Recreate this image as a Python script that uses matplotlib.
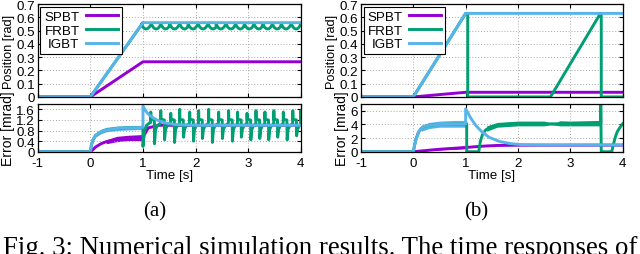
import matplotlib
matplotlib.use("Agg")
import matplotlib.pyplot as plt
import numpy as np

plt.rcParams['font.family'] = ['Liberation Sans', 'DejaVu Sans']
plt.rcParams['axes.unicode_minus'] = False

C_SP = '#9400D3'
C_FR = '#009E73'
C_IG = '#56B4E9'

# ---------------- panel (a) ----------------
t_a_pos = [-1, 0, 1, 4]
sp_a_pos = [0, 0, 0.265, 0.265]
ig_a_pos = [0, 0, 0.56, 0.56]
# FRBT position: scallops after t=1, dip times
fr_a_dips = [1.06, 1.25, 1.43, 1.60, 1.79, 1.95, 2.14, 2.33, 2.48, 2.67,
             2.85, 3.02, 3.20, 3.37, 3.55, 3.72, 3.91]
scallop_off = [-0.09, -0.06, -0.03, 0.0, 0.03, 0.06]
scallop_val = [0.55, 0.527, 0.516, 0.512, 0.516, 0.527]

t_a_ig_err = [-1, 0, 0.02, 0.05, 0.1, 0.2, 0.3, 0.5, 0.7, 1.0, 1.0, 1.05, 1.1,
              1.2, 1.3, 1.45, 1.6, 1.8, 2.0, 4.0]
ig_a_err = [0, 0, 0.25, 0.45, 0.62, 0.75, 0.82, 0.88, 0.9, 0.92, 1.72, 1.55,
            1.42, 1.27, 1.17, 1.08, 1.03, 1.01, 1.0, 1.0]
t_a_ig_band = [0.1, 0.2, 0.3, 0.5, 0.7, 1.0]
ig_a_lo = [0.55, 0.68, 0.75, 0.8, 0.82, 0.84]
ig_a_hi = [0.7, 0.85, 0.92, 0.97, 0.98, 1.0]

t_a_sp_err = [-1, 0, 0.05, 0.1, 0.2, 0.3, 0.5, 0.7, 0.95, 1.0, 1.1, 1.3, 4]
sp_a_err = [0, 0, 0.08, 0.18, 0.3, 0.38, 0.47, 0.5, 0.52, 0.55, 0.9, 1.0, 1.0]
t_a_sp_band = [0.3, 0.5, 0.7, 1.0]
sp_a_lo = [0.3, 0.38, 0.42, 0.42]
sp_a_hi = [0.45, 0.58, 0.62, 0.65]

# FRBT error: start of oscillation, then spikes
t_a_fr_start = [1.0, 1.0, 1.03, 1.07, 1.12]
fr_a_start = [0.92, 0.2, 0.8, 1.0, 1.08]
fr_a_spikes = [1.22, 1.41, 1.60, 1.77, 1.96, 2.13, 2.32, 2.51, 2.70, 2.87,
               3.05, 3.22, 3.39, 3.56, 3.74, 3.92, 4.07]
fr_a_peak = [1.5, 1.55, 1.45, 1.6, 1.5, 1.55, 1.6, 1.5, 1.55, 1.5, 1.45,
             1.55, 1.5, 1.55, 1.5, 1.55, 1.55]
fr_a_trough = [0.3, 0.45, 0.35, 0.55, 0.4, 0.5, 0.35, 0.5, 0.4, 0.55, 0.45,
               0.5, 0.45, 0.55, 0.45, 0.6, 0.6]
spike_off = [-0.075, -0.072, -0.068, -0.004, 0.0, 0.02, 0.05, 0.1]

# ---------------- panel (b) ----------------
t_b_pos = [-1, 0, 1, 4]
sp_b_pos = [0, 0, 0.035, 0.035]
ig_b_pos = [0, 0, 0.63, 0.63]
t_b_fr_pos = [-1, 0, 1.0, 1.04, 1.04, 2.62, 3.56, 3.59, 3.59, 4]
fr_b_pos = [0, 0, 0.63, 0.63, 0, 0, 0.62, 0.62, 0, 0]

t_b_ig_err = [-1, 0, 0.02, 0.05, 0.1, 0.15, 0.2, 0.3, 0.5, 0.8, 1.0, 1.0, 1.1,
              1.2, 1.3, 1.45, 1.65, 1.85, 2.05, 2.4, 4]
ig_b_err = [0, 0, 0.8, 1.8, 2.9, 3.4, 3.7, 3.9, 4.0, 4.05, 4.1, 6.3, 4.9,
            3.8, 3.0, 2.1, 1.5, 1.2, 1.05, 1.0, 1.0]
t_b_ig_band = [0.15, 0.3, 0.5, 0.8, 1.0]
ig_b_lo = [3.0, 3.4, 3.6, 3.6, 3.6]
ig_b_hi = [3.8, 4.3, 4.5, 4.6, 4.6]

t_b_sp_err = [-1, 0, 0.2, 0.4, 0.6, 0.8, 1.0, 1.2, 1.4, 1.6, 2.0, 4]
sp_b_err = [0, 0, 0.15, 0.3, 0.42, 0.52, 0.62, 0.75, 0.85, 0.92, 0.96, 0.97]
t_b_sp_band = [0.4, 0.6, 0.8, 1.0]
sp_b_lo = [0.2, 0.3, 0.35, 0.45]
sp_b_hi = [0.45, 0.6, 0.75, 0.85]

t_b_fr_err = [-1, 0, 0.02, 0.05, 0.1, 0.15, 0.2, 0.3, 0.5, 0.8, 1.02, 1.02,
              1.25, 1.28, 1.32, 1.38, 1.5, 1.7, 2.0, 3.58, 3.58, 3.59, 3.79,
              3.82, 3.86, 3.9, 3.95, 4.0]
fr_b_err = [0, 0, 0.8, 1.8, 2.9, 3.4, 3.7, 3.9, 4.0, 4.05, 4.1, 0, 0, 1.5,
            2.5, 3.2, 3.7, 4.0, 4.1, 4.1, 7.5, 0, 0, 1.0, 2.2, 3.0, 3.6, 4.1]
t_b_fr_band = [1.4, 1.6, 2.0, 2.5, 2.62, 2.7, 2.8, 3.0, 3.57]
fr_b_lo = [3.0, 3.6, 3.8, 3.8, 3.95, 3.9, 3.8, 3.8, 3.8]
fr_b_hi = [3.8, 4.3, 4.5, 4.5, 4.2, 4.2, 4.55, 4.5, 4.6]

labels = ['SPBT', 'FRBT', 'IGBT']
xticks = [-1, 0, 1, 2, 3, 4]
LW = 2.1
FS = 9.6


def style(ax, ylim, yticks, show_x):
    ax.set_xlim(-1, 4)
    ax.set_ylim(*ylim)
    ax.set_xticks(xticks)
    ax.set_yticks(yticks)
    ax.tick_params(direction='in', top=True, right=True, length=3,
                   labelsize=FS, pad=2, labelbottom=show_x)
    ax.tick_params(axis='x', pad=4)
    ax.grid(True, color='#a8a8a8', linestyle=(0, (1, 2)), linewidth=0.7)
    for s in ax.spines.values():
        s.set_linewidth(0.9)


def add_legend(ax, handles):
    leg = ax.legend(handles, labels, loc='upper left', markerfirst=False,
                    fancybox=False, edgecolor='black', framealpha=1,
                    fontsize=FS, handlelength=2.4, labelspacing=0.1,
                    borderaxespad=0.2, borderpad=0.3, handletextpad=0.5)
    leg.get_frame().set_linewidth(0.8)


# build FRBT series for panel (a)
fr_a_pos_t = [-1, 0, 1.0]
fr_a_pos_v = [0, 0, 0.56]
for d in fr_a_dips:
    fr_a_pos_t += [d + o for o in scallop_off]
    fr_a_pos_v += scallop_val
fr_a_pos_t += [4.0]
fr_a_pos_v += [0.55]

fr_a_err_t = list(t_a_ig_err[:10]) + t_a_fr_start
fr_a_err_v = list(ig_a_err[:10]) + fr_a_start
for td, pk, tr in zip(fr_a_spikes, fr_a_peak, fr_a_trough):
    fr_a_err_t += [td + o for o in spike_off]
    fr_a_err_v += [1.1, pk, 1.22, 1.2, tr, 0.85, 0.98, 1.05]

fig = plt.figure(figsize=(6.4, 2.55), dpi=100)
ylab_pos = ['0', '0.1', '0.2', '0.3', '0.4', '0.5', '0.6', '0.7']

# (a) position
ax = fig.add_axes([0.059, 0.616, 0.411, 0.364])
l1, = ax.plot(t_a_pos, sp_a_pos, color=C_SP, lw=LW)
l2, = ax.plot(fr_a_pos_t, fr_a_pos_v, color=C_FR, lw=LW)
l3, = ax.plot(t_a_pos, ig_a_pos, color=C_IG, lw=LW)
style(ax, (0, 0.7), np.arange(0, 0.71, 0.1), False)
ax.set_yticklabels(ylab_pos)
ax.set_ylabel('Position [rad]', fontsize=9.2, labelpad=1)
add_legend(ax, [l1, l2, l3])

# (a) error
ax = fig.add_axes([0.059, 0.401, 0.411, 0.187])
ax.fill_between(t_a_sp_band, sp_a_lo, sp_a_hi, color=C_SP, lw=0)
ax.plot(t_a_sp_err, sp_a_err, color=C_SP, lw=LW)
ax.plot(fr_a_err_t, fr_a_err_v, color=C_FR, lw=LW)
ax.fill_between(t_a_ig_band, ig_a_lo, ig_a_hi, color=C_IG, lw=0)
ax.plot(t_a_ig_err, ig_a_err, color=C_IG, lw=LW)
style(ax, (0, 1.8), [0, 0.4, 0.8, 1.2, 1.6], True)
ax.set_yticklabels(['0', '0.4', '0.8', '1.2', '1.6'])
ax.set_ylabel('Error [mrad]', fontsize=10, labelpad=1)
ax.set_xlabel('Time [s]', fontsize=FS, labelpad=0)

# (b) position
ax = fig.add_axes([0.564, 0.616, 0.409, 0.364])
l1, = ax.plot(t_b_pos, sp_b_pos, color=C_SP, lw=LW)
l2, = ax.plot(t_b_fr_pos, fr_b_pos, color=C_FR, lw=LW)
l3, = ax.plot(t_b_pos, ig_b_pos, color=C_IG, lw=LW)
style(ax, (0, 0.7), np.arange(0, 0.71, 0.1), False)
ax.set_yticklabels(ylab_pos)
ax.set_ylabel('Position [rad]', fontsize=9.2, labelpad=1)
add_legend(ax, [l1, l2, l3])

# (b) error
ax = fig.add_axes([0.564, 0.401, 0.409, 0.187])
ax.fill_between(t_b_sp_band, sp_b_lo, sp_b_hi, color=C_SP, lw=0)
ax.plot(t_b_sp_err, sp_b_err, color=C_SP, lw=LW)
ax.fill_between(t_b_fr_band, fr_b_lo, fr_b_hi, color=C_FR, lw=0)
ax.plot(t_b_fr_err, fr_b_err, color=C_FR, lw=LW)
ax.fill_between(t_b_ig_band, ig_b_lo, ig_b_hi, color=C_IG, lw=0)
ax.plot(t_b_ig_err, ig_b_err, color=C_IG, lw=LW)
style(ax, (0, 7), [0, 2, 4, 6], True)
ax.set_ylabel('Error [mrad]', fontsize=10, labelpad=1)
ax.set_xlabel('Time [s]', fontsize=FS, labelpad=0)

# sub-captions and figure caption
fig.text(0.242, 1 - 212 / 255, '(a)', ha='center', va='center',
         fontsize=15, family='Liberation Serif')
fig.text(0.744, 1 - 212 / 255, '(b)', ha='center', va='center',
         fontsize=15, family='Liberation Serif')
fig.text(0.005, 1 - 236 / 255,
         'Fig. 3: Numerical simulation results. The time responses of',
         ha='left', va='top', fontsize=19.3, family='Liberation Serif')

fig.savefig('out.png', dpi=100)
